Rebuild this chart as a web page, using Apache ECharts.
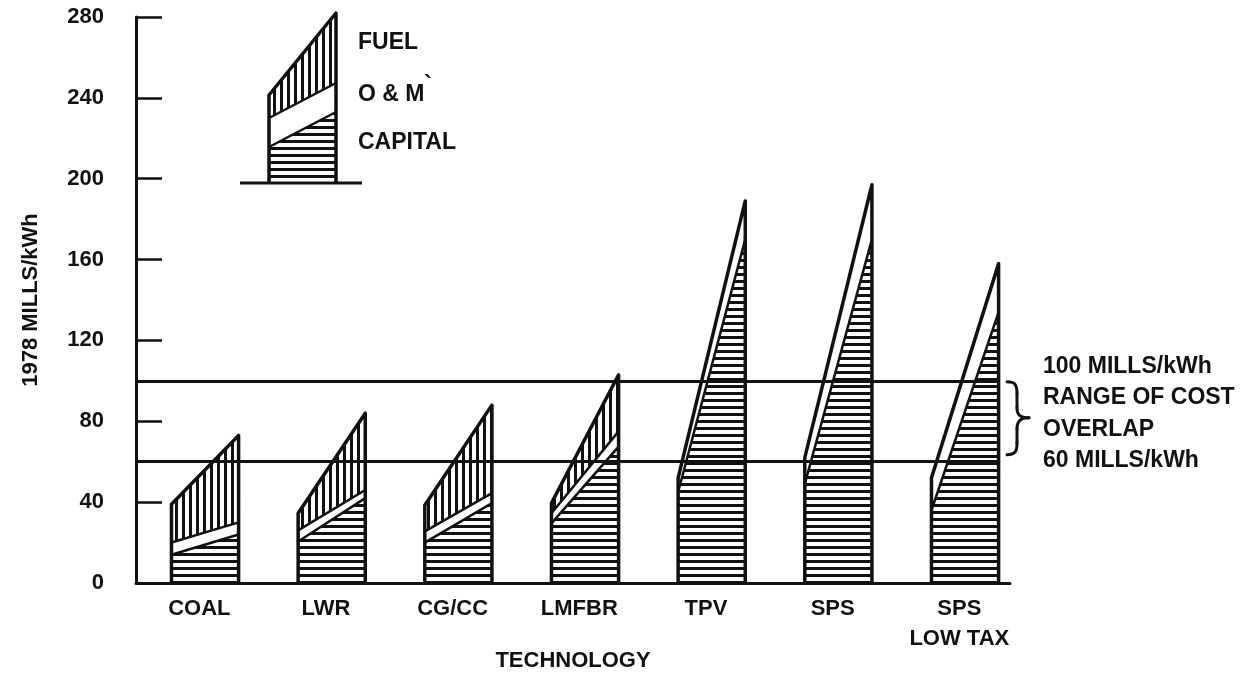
<!DOCTYPE html>
<html>
<head>
<meta charset="utf-8">
<script src="https://cdn.jsdelivr.net/npm/echarts@6/dist/echarts.min.js"></script>
<style>
  html, body { margin: 0; padding: 0; background: #fff; }
  #main { width: 1253px; height: 675px; }
</style>
</head>
<body>
<div id="main"></div>
<script>
// categories
const technologies = ['COAL', 'LWR', 'CG/CC', 'LMFBR', 'TPV', 'SPS', 'SPS\nLOW TAX'];
// cost components, mills/kWh: [low end (left edge), high end (right edge)]
const capital = [[14, 24], [20.5, 42], [20, 39.5], [29.5, 67.5], [45, 170], [49, 170], [36, 134]];
const oAndM   = [[6, 6], [5.5, 4], [5.5, 5], [5, 7.5], [7, 19], [13, 27], [16, 24]];
const fuel    = [[19, 43], [8.5, 38], [13, 43.5], [5, 28], [0, 0], [0, 0], [0, 0]];
// range of cost overlap
const refLines = [100, 60];
const yMin = 0, yMax = 280, yStep = 40;

const X_MAX = 6.9;        // axis runs a bit past the last slot
const BAR_LEFT = 0.28;    // shape edges inside each slot
const BAR_RIGHT = 0.81;
const FONT = '"Liberation Sans", Arial, Helvetica, sans-serif';
const INK = '#111';

function hatch(dir) {
  const c = document.createElement('canvas');
  c.width = 7; c.height = 7;
  const ctx = c.getContext('2d');
  ctx.fillStyle = '#fff';
  ctx.fillRect(0, 0, 7, 7);
  ctx.fillStyle = INK;
  if (dir === 'h') ctx.fillRect(0, 0, 7, 3);
  else ctx.fillRect(0, 0, 3, 7);
  return { image: c, repeat: 'repeat' };
}
const hatchH = hatch('h');
const hatchV = hatch('v');

const shapeData = technologies.map((t, i) => [
  i, capital[i][0], capital[i][1], oAndM[i][0], oAndM[i][1], fuel[i][0], fuel[i][1]
]);

function renderShape(params, api) {
  const i = api.value(0);
  const xl = i + BAR_LEFT, xr = i + BAR_RIGHT;
  const c = [api.value(1), api.value(2)];
  const m = [c[0] + api.value(3), c[1] + api.value(4)];
  const f = [m[0] + api.value(5), m[1] + api.value(6)];
  const P = (x, v) => api.coord([x, v]);
  const children = [
    { type: 'polygon', shape: { points: [P(xl, 0), P(xr, 0), P(xr, c[1]), P(xl, c[0])] }, style: { fill: hatchH } },
    { type: 'polygon', shape: { points: [P(xl, c[0]), P(xr, c[1]), P(xr, m[1]), P(xl, m[0])] }, style: { fill: '#fff' } }
  ];
  if (f[1] > m[1]) {
    children.push({ type: 'polygon', shape: { points: [P(xl, m[0]), P(xr, m[1]), P(xr, f[1]), P(xl, f[0])] }, style: { fill: hatchV } });
    children.push({ type: 'polyline', shape: { points: [P(xl, m[0]), P(xr, m[1])] }, style: { stroke: INK, lineWidth: 2.5, fill: null } });
  }
  children.push({ type: 'polyline', shape: { points: [P(xl, c[0]), P(xr, c[1])] }, style: { stroke: INK, lineWidth: 2.5, fill: null } });
  children.push({
    type: 'polyline',
    shape: { points: [P(xl, 0), P(xl, f[0]), P(xr, f[1]), P(xr, 0)] },
    style: { stroke: INK, lineWidth: 3.5, fill: null, lineJoin: 'round' }
  });
  return { type: 'group', children: children };
}

const lineEnd = technologies.length - 1 + BAR_RIGHT;

const chart = echarts.init(document.getElementById('main'));
const option = {
  animation: false,
  backgroundColor: '#fff',
  grid: { left: 136, right: 243, top: 17, bottom: 92, outerBoundsMode: 'none' },
  xAxis: {
    type: 'value',
    min: 0,
    max: X_MAX,
    interval: 0.5,
    name: 'TECHNOLOGY',
    nameLocation: 'middle',
    nameGap: 67,
    nameMoveOverlap: false,
    nameTextStyle: { color: INK, fontSize: 22, fontWeight: 'bold', fontFamily: FONT },
    axisLine: { lineStyle: { color: INK, width: 3 } },
    axisTick: { show: false },
    splitLine: { show: false },
    axisLabel: {
      color: INK, fontSize: 22, fontWeight: 'bold', fontFamily: FONT,
      lineHeight: 30, margin: 11, showMaxLabel: false,
      formatter: function (v) {
        const k = v - 0.5;
        if (Math.abs(k - Math.round(k)) < 1e-6) return technologies[Math.round(k)] || '';
        return '';
      }
    }
  },
  yAxis: {
    type: 'value',
    min: yMin,
    max: yMax,
    interval: yStep,
    name: '1978 MILLS/kWh',
    nameLocation: 'middle',
    nameRotate: 90,
    nameGap: 94,
    nameMoveOverlap: false,
    nameTextStyle: { color: INK, fontSize: 22, fontWeight: 'bold', fontFamily: FONT },
    axisLine: { show: true, lineStyle: { color: INK, width: 3 } },
    axisTick: { show: true, inside: true, length: 26, lineStyle: { color: INK, width: 2.5 } },
    splitLine: { show: false },
    axisLabel: { color: INK, fontSize: 22, fontWeight: 'bold', fontFamily: FONT, margin: 32 }
  },
  series: [
    {
      type: 'custom',
      renderItem: renderShape,
      data: shapeData,
      z: 2,
      silent: true,
      markLine: {
        silent: true,
        symbol: 'none',
        z: 5,
        label: { show: false },
        lineStyle: { color: INK, width: 3, type: 'solid' },
        data: refLines.map(v => [{ coord: [0, v] }, { coord: [lineEnd, v] }])
      }
    }
  ]
};
chart.setOption(option);

// annotations next to the overlap lines and the legend key
const p100 = chart.convertToPixel({ gridIndex: 0 }, [X_MAX, refLines[0]]);
const p60 = chart.convertToPixel({ gridIndex: 0 }, [X_MAX, refLines[1]]);
const noteX = p100[0] + 33;
const noteTop = p100[1] - 14;
const noteStep = (p60[1] - 1 - noteTop) / 3;
const notes = ['100 MILLS/kWh', 'RANGE OF COST', 'OVERLAP', '60 MILLS/kWh'];

function label(text, x, y, size) {
  return {
    type: 'text', x: x, y: y, z: 10,
    style: { text: text, fill: INK, fontSize: size || 22, fontWeight: 'bold', fontFamily: FONT, align: 'left', verticalAlign: 'middle' }
  };
}

const graphics = notes.map((t, k) => label(t, noteX, noteTop + k * noteStep, 23));

// curly brace "}" between the two lines, made of bezier pieces
const bx = p100[0] - 3, by = p100[1] + 1;
const bs = ((p60[1] - 7) - by) / 73;
const braceParts = [
  [0, 0, 9, 0, 10, 4, 10, 12],
  [10, 12, 10, 17, 10, 21, 10, 26],
  [10, 26, 10, 33, 13, 36, 22, 36],
  [22, 36, 13, 36, 10, 40, 10, 47],
  [10, 47, 10, 52, 10, 56, 10, 61],
  [10, 61, 10, 69, 9, 73, 0, 73]
];
braceParts.forEach(b => {
  graphics.push({
    type: 'bezierCurve', z: 10,
    shape: {
      x1: bx + b[0], y1: by + b[1] * bs,
      cpx1: bx + b[2], cpy1: by + b[3] * bs,
      cpx2: bx + b[4], cpy2: by + b[5] * bs,
      x2: bx + b[6], y2: by + b[7] * bs
    },
    style: { stroke: INK, lineWidth: 3, fill: null, lineCap: 'round' }
  });
});

// legend key
const kL = 269, kR = 336, kBase = 183;
const key = { capL: 147, capR: 112, omL: 118, omR: 83, topL: 95, topR: 13 };
graphics.push(
  { type: 'polygon', z: 8, shape: { points: [[kL, kBase], [kR, kBase], [kR, key.capR], [kL, key.capL]] }, style: { fill: hatchH } },
  { type: 'polygon', z: 8, shape: { points: [[kL, key.capL], [kR, key.capR], [kR, key.omR], [kL, key.omL]] }, style: { fill: '#fff' } },
  { type: 'polygon', z: 8, shape: { points: [[kL, key.omL], [kR, key.omR], [kR, key.topR], [kL, key.topL]] }, style: { fill: hatchV } },
  { type: 'polyline', z: 9, shape: { points: [[kL, key.capL], [kR, key.capR]] }, style: { stroke: INK, lineWidth: 2.5, fill: null } },
  { type: 'polyline', z: 9, shape: { points: [[kL, key.omL], [kR, key.omR]] }, style: { stroke: INK, lineWidth: 2.5, fill: null } },
  { type: 'polyline', z: 9, shape: { points: [[kL, kBase], [kL, key.topL], [kR, key.topR], [kR, kBase]] }, style: { stroke: INK, lineWidth: 3.5, fill: null, lineJoin: 'round' } },
  { type: 'line', z: 9, shape: { x1: 240, y1: kBase, x2: 362, y2: kBase }, style: { stroke: INK, lineWidth: 3 } },
  label('FUEL', 358, 43, 23),
  label('O & M', 358, 95, 23),
  label('`', 424, 86, 23),
  label('CAPITAL', 358, 143, 23)
);

chart.setOption({ graphic: graphics });

window.addEventListener('resize', function () {
  chart.resize();
});
</script>
</body>
</html>
